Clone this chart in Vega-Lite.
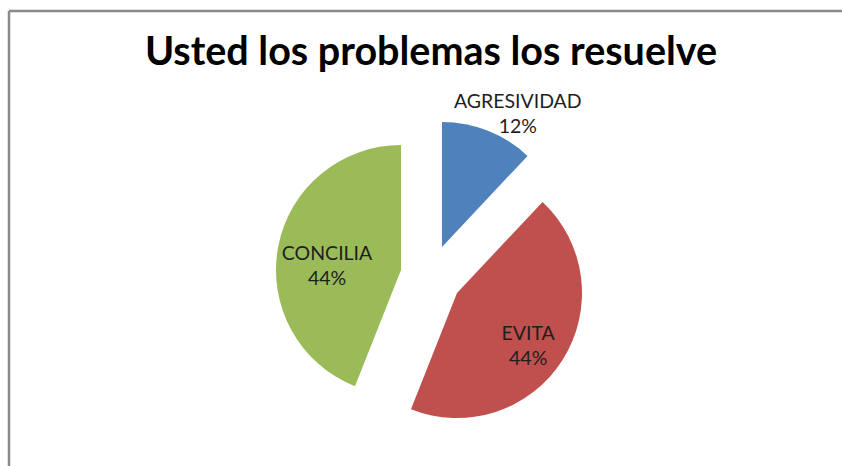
{
  "$schema": "https://vega.github.io/schema/vega-lite/v6.json",
  "autosize": {"type": "none"},
  "width": 844,
  "height": 530,
  "padding": {"left": 9, "top": 11, "right": 0, "bottom": 0},
  "background": "white",
  "config": {
    "view": {"stroke": null},
    "text": {"font": "Lato"}
  },
  "title": {
    "text": "Usted los problemas los resuelve",
    "font": "Lato",
    "fontSize": 39.5,
    "fontWeight": "bold",
    "color": "#000000",
    "anchor": "middle",
    "baseline": "alphabetic",
    "offset": -95
  },
  "data": {
    "values": [
      {"category": "AGRESIVIDAD", "value": 12, "label": "AGRESIVIDAD\n12%"},
      {"category": "EVITA", "value": 44, "label": "EVITA\n44%"},
      {"category": "CONCILIA", "value": 44, "label": "CONCILIA\n44%"}
    ]
  },
  "transform": [
    {"window": [{"op": "row_number", "as": "idx"}]}
  ],
  "layer": [
    {
      "data": {"values": [{}]},
      "mark": {"type": "rule", "color": "#8a8a8a", "strokeWidth": 2.5},
      "encoding": {"x": {"value": 0}}
    },
    {
      "data": {"values": [{}]},
      "mark": {"type": "rule", "color": "#8a8a8a", "strokeWidth": 2.5},
      "encoding": {"y": {"value": 0}}
    },
    {
      "mark": {"type": "arc", "outerRadius": 125, "xOffset": 11, "yOffset": -29},
      "encoding": {
        "theta": {"field": "value", "type": "quantitative", "stack": true},
        "order": {"field": "idx", "type": "quantitative"},
        "color": {"field": "category", "type": "nominal", "scale": {"domain": ["AGRESIVIDAD", "EVITA", "CONCILIA"], "range": ["#4F81BD", "#C0504D", "#9BBB59"]}, "legend": null},
        "opacity": {"condition": {"test": "datum.category === 'AGRESIVIDAD'", "value": 1}, "value": 0}
      }
    },
    {
      "mark": {"type": "arc", "outerRadius": 125, "xOffset": 26, "yOffset": 17},
      "encoding": {
        "theta": {"field": "value", "type": "quantitative", "stack": true},
        "order": {"field": "idx", "type": "quantitative"},
        "color": {"field": "category", "type": "nominal", "scale": {"domain": ["AGRESIVIDAD", "EVITA", "CONCILIA"], "range": ["#4F81BD", "#C0504D", "#9BBB59"]}, "legend": null},
        "opacity": {"condition": {"test": "datum.category === 'EVITA'", "value": 1}, "value": 0}
      }
    },
    {
      "mark": {"type": "arc", "outerRadius": 125, "xOffset": -30, "yOffset": -6},
      "encoding": {
        "theta": {"field": "value", "type": "quantitative", "stack": true},
        "order": {"field": "idx", "type": "quantitative"},
        "color": {"field": "category", "type": "nominal", "scale": {"domain": ["AGRESIVIDAD", "EVITA", "CONCILIA"], "range": ["#4F81BD", "#C0504D", "#9BBB59"]}, "legend": null},
        "opacity": {"condition": {"test": "datum.category === 'CONCILIA'", "value": 1}, "value": 0}
      }
    },
    {
      "mark": {"type": "text", "radius": 153, "thetaOffset": 0.141, "xOffset": 11, "yOffset": -29, "dy": -12, "fontSize": 19.5, "lineHeight": 25, "lineBreak": "\n", "align": "center", "baseline": "middle"},
      "encoding": {
        "theta": {"field": "value", "type": "quantitative", "stack": true},
        "order": {"field": "idx", "type": "quantitative"},
        "text": {"field": "label"},
        "color": {"value": "#1e1e1e"},
        "opacity": {"condition": {"test": "datum.category === 'AGRESIVIDAD'", "value": 1}, "value": 0}
      }
    },
    {
      "mark": {"type": "text", "radius": 86, "thetaOffset": 0.01, "xOffset": 26, "yOffset": 17, "dx": -1, "dy": -6, "fontSize": 19.5, "lineHeight": 25, "lineBreak": "\n", "align": "center", "baseline": "middle"},
      "encoding": {
        "theta": {"field": "value", "type": "quantitative", "stack": true},
        "order": {"field": "idx", "type": "quantitative"},
        "text": {"field": "label"},
        "color": {"value": "#1e1e1e"},
        "opacity": {"condition": {"test": "datum.category === 'EVITA'", "value": 1}, "value": 0}
      }
    },
    {
      "mark": {"type": "text", "radius": 74, "thetaOffset": -0.148, "xOffset": -30, "yOffset": -6, "dy": -13, "fontSize": 19.5, "lineHeight": 25, "lineBreak": "\n", "align": "center", "baseline": "middle"},
      "encoding": {
        "theta": {"field": "value", "type": "quantitative", "stack": true},
        "order": {"field": "idx", "type": "quantitative"},
        "text": {"field": "label"},
        "color": {"value": "#1e1e1e"},
        "opacity": {"condition": {"test": "datum.category === 'CONCILIA'", "value": 1}, "value": 0}
      }
    }
  ]
}
